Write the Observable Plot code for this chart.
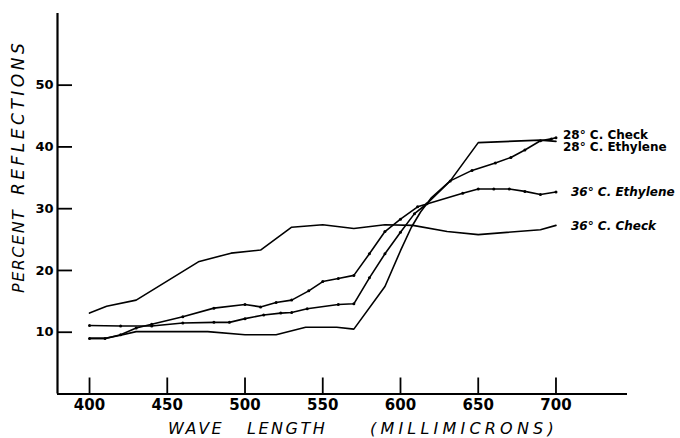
<!DOCTYPE html>
<html><head><meta charset="utf-8">
<script src="https://cdn.jsdelivr.net/npm/d3@7"></script>
<script src="https://cdn.jsdelivr.net/npm/@observablehq/plot@0.6"></script>
<style>body{margin:0;background:#fff} svg{display:block}</style>
</head><body><div id="chart"></div>
<script>
// Tick values
const xTicks = [400, 450, 500, 550, 600, 650, 700];
const yTicks = [10, 20, 30, 40, 50];

// 36° C. Check
const wl36Check = [400,411,430,470,491,510,530,550,570,590,608,630,650,690,700];
const r36Check  = [13.1,14.2,15.2,21.4,22.8,23.3,27.0,27.4,26.8,27.4,27.3,26.3,25.8,26.6,27.3];
// 36° C. Ethylene
const wl36Eth = [400,410,420,430,440,460,480,500,510,520,530,541,550,560,570,580,590,600,611,640,650,660,670,680,690,700];
const r36Eth  = [9.0,9.0,9.6,10.7,11.3,12.5,13.9,14.5,14.1,14.8,15.2,16.7,18.2,18.7,19.2,22.7,26.3,28.3,30.3,32.5,33.2,33.2,33.2,32.8,32.3,32.7];
// 28° C. Check
const wl28Check = [400,420,440,460,480,490,500,512,523,530,540,560,570,580,590,600,609,617,632,646,661,671,680,690,697,700];
const r28Check  = [11.1,11.0,11.0,11.5,11.6,11.6,12.2,12.8,13.1,13.2,13.8,14.5,14.6,18.8,22.7,26.2,29.2,30.8,34.5,36.2,37.4,38.3,39.5,41.0,41.3,41.5];
// 28° C. Ethylene
const wl28Eth = [400,410,420,430,460,476,500,520,539,559,570,590,600,607,613,620,632,650,690,700];
const r28Eth  = [9.0,9.0,9.5,10.1,10.1,10.1,9.6,9.6,10.8,10.8,10.5,17.4,23.2,27.0,29.5,31.8,34.5,40.7,41.1,40.9];

const seriesNames = ["28° C. Check", "28° C. Ethylene", "36° C. Ethylene", "36° C. Check"];

function build(name, wl, r) { return wl.map((w, i) => ({series: name, wl: w, r: r[i]})); }
const s28C = build(seriesNames[0], wl28Check, r28Check);
const s28E = build(seriesNames[1], wl28Eth, r28Eth);
const s36E = build(seriesNames[2], wl36Eth, r36Eth);
const s36C = build(seriesNames[3], wl36Check, r36Check);
const all = [...s28C, ...s28E, ...s36E, ...s36C];
const last = (arr) => [arr[arr.length - 1]];

const xMin = 379.4;
const labelFont = {fontSize: 12, fontWeight: "bold", textAnchor: "start", fill: "black"};

const plot = Plot.plot({
  width: 680, height: 438,
  marginLeft: 57, marginRight: 53, marginTop: 13, marginBottom: 44.5,
  x: {domain: [xMin, 746]},
  y: {domain: [0, 61.6]},
  style: {fontFamily: "DejaVu Sans", background: "white", color: "black", overflow: "visible"},
  marks: [
    Plot.ruleX([xMin], {strokeWidth: 2.2}),
    Plot.ruleY([0], {strokeWidth: 2.2}),
    Plot.axisX({ticks: xTicks, tickSize: -16, tickPadding: 21, tickFormat: d => String(d), label: null, fontSize: 15, fontWeight: "bold", strokeWidth: 1.8}),
    Plot.axisY({ticks: yTicks, tickSize: -15, tickPadding: 19, tickFormat: d => String(d), label: null, fontSize: 13, fontWeight: "bold", strokeWidth: 1.8}),
    Plot.line(all, {x: "wl", y: "r", z: "series", stroke: "black", strokeWidth: 1.6, curve: "linear"}),
    Plot.dot([...s28C, ...s36E], {x: "wl", y: "r", r: 1.5, fill: "black", stroke: null}),
    Plot.text(last(s28C), {x: "wl", y: "r", text: "series", dx: 7, dy: -3, ...labelFont}),
    Plot.text(last(s28E), {x: "wl", y: "r", text: "series", dx: 7, dy: 6, ...labelFont}),
    Plot.text(last(s36E), {x: "wl", y: "r", text: "series", dx: 15, dy: 0, ...labelFont, fontStyle: "italic"}),
    Plot.text(last(s36C), {x: "wl", y: "r", text: "series", dx: 15, dy: 1, ...labelFont, fontStyle: "italic"})
  ]
});

document.getElementById("chart").appendChild(plot);

// Axis titles
const svg = d3.select(plot);
const titleStyle = (t, spacing, size) => t.attr("font-family", "DejaVu Sans").attr("font-size", size)
  .attr("font-style", "italic").attr("letter-spacing", spacing).attr("fill", "black")
  .attr("text-anchor", "start").attr("dominant-baseline", "central");
[["WAVE", 168, 2.5], ["LENGTH", 247, 2.5], ["(MILLIMICRONS)", 370, 4.2]].forEach(([t, x, s]) => {
  svg.append("text").attr("x", x).attr("y", 428).text(t).call(titleStyle, s, 16);
});
[["PERCENT", 293, 1.5, 16], ["REFLECTIONS", 195, 3.5, 17]].forEach(([t, y, s, f]) => {
  svg.append("text").attr("transform", `translate(18,${y}) rotate(-90)`).text(t).call(titleStyle, s, f);
});
</script>
</body></html>
